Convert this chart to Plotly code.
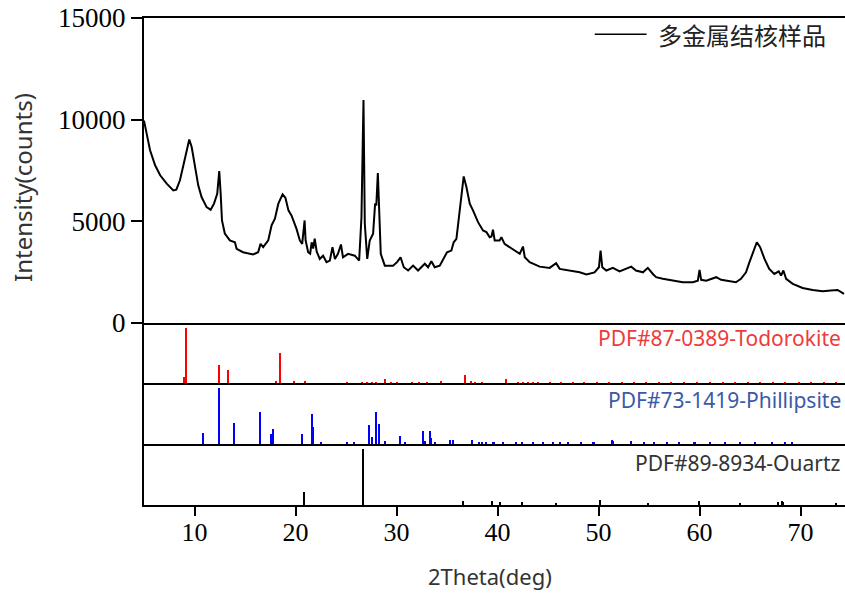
import plotly.graph_objects as go

# ---- measured pattern (2theta, counts) ----
two_theta = [5.0, 5.27, 5.6, 6.1, 6.6, 7.25, 7.9, 8.2, 8.56, 8.9, 9.22, 9.48, 9.72, 10.04, 10.37, 10.7,
             11.2, 11.6, 11.93, 12.25, 12.45, 12.59, 12.72, 13.0, 13.5, 14.0, 14.17, 14.8, 15.8, 16.3,
             16.54, 16.8, 17.3, 17.63, 17.96, 18.3, 18.72, 19.0, 19.3, 19.6, 20.1, 20.43, 20.66, 20.9,
             21.0, 21.25, 21.45, 21.6, 21.75, 21.9, 22.1, 22.4, 22.73, 23.07, 23.4, 23.66, 23.9, 24.2,
             24.5, 24.7, 25.2, 25.87, 26.3, 26.53, 26.73, 26.86, 27.1, 27.35, 27.68, 27.88, 28.0,
             28.15, 28.27, 28.44, 28.84, 29.66, 30.05, 30.4, 30.72, 31.15, 31.64, 32.13, 32.8, 33.12,
             33.45, 33.78, 34.28, 34.6, 35.0, 35.43, 35.66, 35.93, 36.26, 36.42, 36.65, 36.92, 37.25,
             37.57, 38.07, 38.56, 38.9, 39.22, 39.4, 39.55, 39.72, 40.2, 40.38, 40.7, 41.53, 42.2,
             42.52, 42.7, 43.18, 44.17, 45.16, 45.8, 46.15, 47.14, 48.13, 48.8, 49.6, 50.04, 50.2,
             50.37, 50.77, 51.42, 52.08, 53.24, 53.7, 54.4, 54.88, 55.38, 55.7, 56.36, 57.35, 58.34,
             59.33, 59.83, 60.0, 60.16, 60.66, 61.65, 62.14, 62.96, 63.6, 64.1, 64.6, 64.94, 65.34,
             65.67, 66.0, 66.43, 66.9, 67.4, 67.84, 68.07, 68.3, 68.57, 69.23, 70.2, 71.2, 72.2, 73.0,
             73.67, 74.3]
intensity = [9950, 9230, 8490, 7750, 7256, 6846, 6515, 6550, 7010, 7750, 8490, 9020, 8650, 7665, 6760, 6185,
             5690, 5560, 5860, 6350, 7470, 6350, 5035, 4390, 4050, 3960, 3640, 3470, 3360, 3470,
             3880, 3720, 4050, 4790, 5120, 5860, 6320, 6150, 5530, 5280, 4620, 4050, 3880, 5035,
             4050, 3470, 3400, 3960, 3650, 4140, 3500, 3140, 3300, 2980, 3060, 3720, 3140, 3390,
             3850, 3220, 3390, 3300, 3060, 5200, 10960, 4870, 3140, 4050, 4380, 5860, 5775,
             7370, 5200, 3390, 2810, 2810, 2980, 3220, 2730, 2570, 2810, 2570, 2900, 2730,
             3030, 2730, 2810, 3140, 3470, 3550, 3960, 4130, 5530, 6185, 7200, 6680, 5860,
             5530, 4950, 4540, 4460, 4210, 4245, 4575, 4050, 4050, 4210, 3880, 3590, 3390,
             3750, 3220, 2980, 2760, 2700, 2930, 2650, 2570, 2480, 2370, 2480, 2730, 3550,
             2730, 2570, 2700, 2530, 2760, 2570, 2480, 2700, 2400, 2240, 2160, 2070, 1990,
             1990, 2070, 2600, 2110, 2070, 2240, 2110, 2040, 1990, 2160, 2480, 2980, 3550,
             3960, 3720, 3140, 2650, 2400, 2530, 2320, 2570, 2160, 1910, 1710, 1610, 1545, 1580,
             1610, 1420]

# ---- reference patterns (2theta, relative intensity) ----
todo_pos = [8.99, 9.15, 12.44, 13.3, 18.1, 18.45, 19.84, 20.93, 25.1, 26.6, 27.1, 27.6, 28.0, 28.84,
            29.5, 30.0, 31.5, 32.2, 33.0, 34.45, 36.75, 37.4, 37.8, 38.5, 40.87, 42.0, 42.5, 43.0,
            43.5, 44.0, 45.2, 46.3, 47.5, 48.6, 49.8, 51.0, 52.3, 53.5, 54.7, 56.0, 57.2, 58.5,
            59.7, 61.0, 62.3, 63.5, 64.8, 66.0, 67.3, 68.5, 69.8, 71.0, 72.3, 73.5]
todo_int = [12, 100, 34, 24, 4, 55, 4, 4, 2, 2, 2, 2, 2, 8,
            3, 3, 2, 2, 2, 4, 15, 5, 2, 2, 9, 3, 3, 3,
            3, 3, 2, 2, 2, 2, 2, 2, 2, 2, 2, 2, 2, 2,
            2, 2, 2, 2, 2, 2, 2, 2, 2, 2, 2, 2]

phil_pos = [10.84, 12.45, 13.87, 16.5, 17.53, 17.79, 20.66, 21.59, 21.75, 22.5, 25.1, 25.8, 27.32,
            27.58, 28.01, 28.27, 28.84, 30.36, 30.88, 32.66, 32.82, 33.29, 33.46, 33.85, 35.27, 35.6,
            37.51, 38.2, 38.5, 38.9, 39.6, 40.5, 41.8, 42.4, 43.5, 44.5, 45.5, 46.15, 47.0, 48.3,
            49.5, 51.3, 51.45, 53.24, 54.5, 55.5, 56.8, 58.0, 59.5, 61.0, 62.5, 64.0, 65.5, 67.2,
            68.5, 69.2]
phil_int = [20, 100, 37, 57, 18, 27, 17, 53, 30, 3, 3, 3, 34,
            13, 57, 35, 5, 15, 2, 23, 5, 23, 11, 3, 8, 8,
            8, 3, 3, 3, 2, 2, 3, 2, 2, 2, 2, 4, 2, 2,
            2, 7, 5, 5, 2, 2, 2, 2, 2, 2, 2, 2, 2, 2,
            2, 2]

quartz_pos = [20.86, 26.64, 36.54, 39.47, 40.29, 42.45, 45.79, 50.14, 54.87, 59.96, 64.0, 67.74,
              68.14, 68.3, 73.47]
quartz_int = [22, 100, 7, 7, 4, 5, 3, 8, 3, 6, 2, 4, 6, 4, 2]

sample_name = "多金属结核样品"
ref_names = ["PDF#87-0389-Todorokite", "PDF#73-1419-Phillipsite", "PDF#89-8934-Ouartz"]
ref_text_colors = ["#ee3b3b", "#3a5aa8", "#333333"]
ref_bar_colors = ["#ff0000", "#0000ff", "#000000"]
y_ticks = [0, 5000, 10000, 15000]
y_tick_labels = ["0", "5000", "10000", "15000"]
x_ticks = [10, 20, 30, 40, 50, 60, 70]

X_RANGE = [5, 74.4]
fig = go.Figure()

fig.add_trace(go.Scatter(x=two_theta, y=intensity, mode="lines",
                         line=dict(color="black", width=2), xaxis="x", yaxis="y",
                         showlegend=False))

for i, (pos, inten) in enumerate([(todo_pos, todo_int), (phil_pos, phil_int), (quartz_pos, quartz_int)]):
    fig.add_trace(go.Bar(x=pos, y=inten, width=0.2, marker=dict(color=ref_bar_colors[i], line=dict(width=0)),
                         xaxis=f"x{i+2}", yaxis=f"y{i+2}", showlegend=False))

doms = [[0.3743, 1.0], [0.2498, 0.3743], [0.1246, 0.2498], [0.0, 0.1246]]
axline = dict(showline=True, linecolor="black", linewidth=2, showgrid=False, zeroline=False,
              automargin=False)

fig.update_layout(
    width=845, height=593,
    margin=dict(l=144, r=0, t=18, b=88),
    paper_bgcolor="white", plot_bgcolor="white",
    bargap=0,
    xaxis=dict(domain=[0, 1], range=X_RANGE, anchor="y", mirror=True, ticks="",
               showticklabels=False, **axline),
    xaxis2=dict(domain=[0, 1], range=X_RANGE, anchor="y2", matches="x", ticks="",
                showticklabels=False, **axline),
    xaxis3=dict(domain=[0, 1], range=X_RANGE, anchor="y3", matches="x", ticks="",
                showticklabels=False, **axline),
    xaxis4=dict(domain=[0, 1], range=X_RANGE, anchor="y4", matches="x", ticks="outside",
                ticklen=9, tickwidth=2, tickcolor="black", tickvals=x_ticks, ticklabelstandoff=-6,
                tickfont=dict(family="Liberation Serif", size=26, color="black"), **axline),
    yaxis=dict(domain=doms[0], range=[0, 15000], anchor="x", tickvals=y_ticks, ticktext=y_tick_labels,
               ticks="outside", ticklen=11, tickwidth=2, tickcolor="black",
               tickfont=dict(family="Liberation Serif", size=27, color="black"), **axline),
    yaxis2=dict(domain=doms[1], range=[0, 109], anchor="x2", showticklabels=False, ticks="", **axline),
    yaxis3=dict(domain=doms[2], range=[0, 109], anchor="x3", showticklabels=False, ticks="", **axline),
    yaxis4=dict(domain=doms[3], range=[0, 109], anchor="x4", showticklabels=False, ticks="", **axline),
)

# legend drawn by hand
fig.add_shape(type="line", xref="paper", yref="paper", x0=0.643, x1=0.717, y0=0.9665, y1=0.9665,
              line=dict(color="black", width=1.5))
fig.add_annotation(text=sample_name, xref="paper", yref="paper", x=0.731, y=0.9665,
                   xanchor="left", yanchor="middle", showarrow=False,
                   font=dict(family="Noto Sans CJK SC", size=24, color="#222222"))

for name, col, yy in zip(ref_names, ref_text_colors, [0.343, 0.2156, 0.0862]):
    fig.add_annotation(text=name, xref="paper", yref="paper", x=0.997, y=yy,
                       xanchor="right", yanchor="middle", showarrow=False,
                       font=dict(family="Noto Sans", size=21, color=col))

fig.add_annotation(text="Intensity(counts)", xref="paper", yref="paper", x=-0.1726, y=0.651,
                   textangle=-90, xanchor="center", yanchor="middle", showarrow=False,
                   font=dict(family="Noto Sans", size=24, color="#333333"))
fig.add_annotation(text="2Theta(deg)", xref="paper", yref="paper", x=0.4936, y=-0.146,
                   xanchor="center", yanchor="middle", showarrow=False,
                   font=dict(family="Noto Sans", size=22, color="#333333"))

fig.write_html("out.html", post_script="document.body.style.margin='0px';",
               config={"displayModeBar": False})
